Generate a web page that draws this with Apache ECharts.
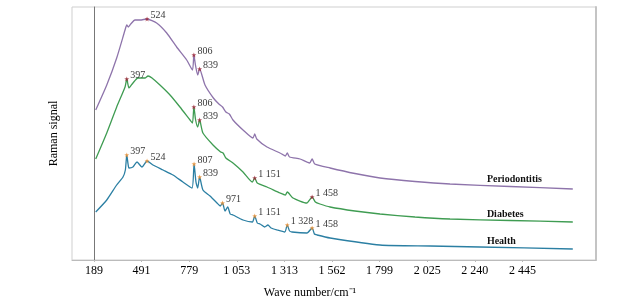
<!DOCTYPE html>
<html>
<head>
<meta charset="utf-8">
<script src="https://cdn.jsdelivr.net/npm/echarts@6/dist/echarts.min.js"></script>
<style>
  html, body { margin: 0; padding: 0; background: #fff; }
  #main { width: 633px; height: 304px; }
</style>
</head>
<body>
<div id="main"></div>
<script>
// tick labels of the (non linear) wavenumber axis, evenly spaced on screen
const tickValues = [189, 491, 779, 1053, 1313, 1562, 1799, 2025, 2240, 2445]

// [wavenumber, signal]
const periodontitis = [
  [200, 150], [270, 175], [333, 202], [386, 230], [397, 235], [407, 233], [422, 236], [449, 240],
  [481, 240], [524, 241], [582, 237], [643, 227], [703, 213], [764, 200], [798, 190], [806, 205],
  [815, 195], [828, 185], [839, 191], [870, 175], [918, 162], [950, 156], [971, 153], [990, 148],
  [1010, 146], [1031, 140], [1087, 130], [1141, 122], [1151, 126], [1162, 121], [1218, 113],
  [1289, 107], [1318, 104], [1328, 107], [1340, 103], [1395, 101], [1445, 97], [1458, 101],
  [1472, 96], [1552, 92], [1676, 86.5], [1801, 82], [1967, 78.5], [2128, 76], [2392, 73.5], [2662, 71]
]
const diabetes = [
  [200, 101], [270, 127], [333, 153], [386, 173], [397, 181], [411, 172], [436, 177], [468, 182],
  [511, 182], [530, 184], [554, 182], [602, 175], [663, 165], [723, 153], [784, 140], [798, 137],
  [806, 153], [816, 140], [828, 133], [839, 140], [858, 127], [916, 115], [960, 108], [974, 107],
  [990, 102], [1031, 97], [1087, 88], [1138, 78], [1151, 82], [1165, 77], [1218, 73], [1289, 67],
  [1318, 65], [1328, 68], [1358, 62], [1430, 57], [1458, 63], [1475, 58], [1499, 56], [1552, 53],
  [1676, 49], [1801, 46], [1967, 43], [2128, 41], [2392, 39.5], [2662, 38]
]
const health = [
  [200, 48], [270, 60], [333, 75], [373, 83], [388, 90], [397, 105], [405, 96], [411, 92],
  [436, 93], [462, 98], [493, 93], [524, 99], [560, 95], [621, 90], [681, 85], [741, 78],
  [795, 72], [807, 96], [818, 78], [828, 72], [839, 83], [858, 70], [899, 64], [939, 57],
  [958, 54], [971, 57], [985, 49], [1001, 53], [1015, 46], [1031, 45], [1087, 40], [1138, 38],
  [1151, 44], [1165, 37], [1180, 36], [1205, 33], [1223, 35], [1240, 32], [1273, 30], [1315, 28],
  [1328, 35], [1340, 29], [1353, 28], [1431, 27], [1458, 32], [1470, 26], [1484, 25], [1552, 22],
  [1801, 15], [2038, 14], [2262, 13], [2662, 11]
]

const peaksP = [524, 806, 839]
const peaksD = [397, 806, 839, 1151, 1458]
const peaksH = [397, 524, 807, 839, 971, 1151, 1328, 1458]

const names = ['Periodontitis', 'Diabetes', 'Health']
const colors = ['#8e74ab', '#3f9c52', '#2b7fa3']
const peakColors = ['#9b2335', '#9b2335', '#ee8f2e']
const nameAt = 2292

// wavenumber -> position on the evenly spaced tick scale
function toIdx(w) {
  const t = tickValues
  const n = t.length
  if (w <= t[0]) return (w - t[0]) / (t[1] - t[0])
  for (let i = 0; i < n - 1; i++) {
    if (w <= t[i + 1]) return i + (w - t[i]) / (t[i + 1] - t[i])
  }
  return n - 1 + (w - t[n - 1]) / (t[n - 1] - t[n - 2])
}
function fmt(v) {
  return v >= 1000 ? Math.floor(v / 1000) + ' ' + String(v % 1000).padStart(3, '0') : String(v)
}
function yAt(data, w) {
  for (let i = 0; i < data.length - 1; i++) {
    const a = data[i], b = data[i + 1]
    if (w >= a[0] && w <= b[0]) return a[1] + (b[1] - a[1]) * (w - a[0]) / (b[0] - a[0])
  }
  return data[data.length - 1][1]
}

const serif = 'Liberation Serif'
const curves = [periodontitis, diabetes, health]
const peaks = [peaksP, peaksD, peaksH]

let series = []
curves.forEach((data, k) => {
  series.push({
    name: names[k],
    type: 'line',
    data: data.map(p => [toIdx(p[0]), p[1]]),
    showSymbol: false,
    smooth: 0.2,
    lineStyle: { color: colors[k], width: 1.3 },
    z: 2,
    markPoint: {
      symbol: 'circle',
      symbolSize: 0,
      silent: true,
      data: [{ coord: [toIdx(nameAt), yAt(data, nameAt)] }],
      label: {
        show: true,
        formatter: names[k],
        position: 'right',
        distance: 0,
        offset: [0, -6],
        fontFamily: serif,
        fontWeight: 'bold',
        fontSize: 10,
        color: '#111',
      },
    },
  })
  series.push({
    type: 'scatter',
    data: peaks[k].map(w => [toIdx(w), yAt(data, w), w]),
    symbol: 'path://M0,-10L2.4,-3.3L9.5,-3.1L3.8,1.2L5.9,8.1L0,4L-5.9,8.1L-3.8,1.2L-9.5,-3.1L-2.4,-3.3Z',
    symbolSize: 5,
    itemStyle: { color: peakColors[k] },
    z: 3,
    label: {
      show: true,
      position: 'right',
      distance: 1,
      offset: [0, -4],
      formatter: p => fmt(p.value[2]),
      fontFamily: serif,
      fontSize: 10,
      color: '#000',
    },
  })
})

const myChart = echarts.init(document.getElementById('main'))
const option = {
  animation: false,
  grid: {
    left: 72, right: 37, top: 7, bottom: 44,
    show: true, borderColor: '#cfcfcf', borderWidth: 1,
  },
  xAxis: {
    type: 'value',
    min: -0.462,
    max: 10.546,
    name: 'Wave number/cm⁻¹',
    nameLocation: 'middle',
    nameGap: 27,
    nameTextStyle: { fontFamily: serif, fontSize: 12, color: '#000', padding: [0, 48, 0, 0] },
    axisLine: { lineStyle: { color: '#bbb' } },
    axisTick: { show: true, length: 2, customValues: tickValues.map((v, i) => i), lineStyle: { color: '#bbb' } },
    axisLabel: {
      customValues: tickValues.map((v, i) => i),
      formatter: v => fmt(tickValues[Math.round(v)]),
      fontFamily: serif,
      fontSize: 12,
      color: '#000',
      margin: 5,
    },
    splitLine: { show: false },
  },
  yAxis: [
    {
      type: 'value',
      min: 0,
      max: 253,
      name: 'Raman signal',
      nameLocation: 'middle',
      nameGap: 12,
      nameTextStyle: { fontFamily: serif, fontSize: 12, color: '#000' },
      axisLine: { show: true, lineStyle: { color: '#777' } },
      axisTick: { show: false },
      axisLabel: { show: false },
      splitLine: { show: false },
    },
    {
      type: 'value',
      position: 'right',
      min: 0,
      max: 253,
      axisLine: { show: true, lineStyle: { color: '#c4c4c4', width: 2 } },
      axisTick: { show: false },
      axisLabel: { show: false },
      splitLine: { show: false },
    },
  ],
  series: series,
}
myChart.setOption(option)
window.addEventListener('resize', () => {
  myChart.resize()
})
</script>
</body>
</html>
